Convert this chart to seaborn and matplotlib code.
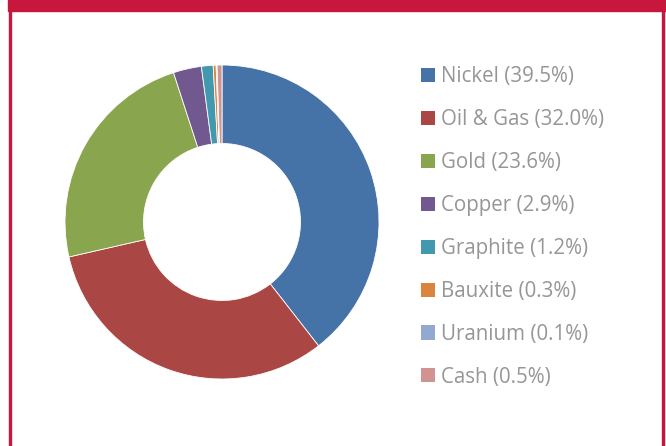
import matplotlib.pyplot as plt
import seaborn as sns
from matplotlib.patches import Rectangle, Patch

# datos del gráfico
commodities = ['Nickel', 'Oil & Gas', 'Gold', 'Copper', 'Graphite', 'Bauxite', 'Uranium', 'Cash']
shares = [39.5, 32.0, 23.6, 2.9, 1.2, 0.3, 0.1, 0.5]
colors = ['#4572A7', '#AA4643', '#89A54E', '#71588F', '#4198AF', '#DB843D', '#93A9CF', '#D09392']

sns.set_theme(style="white")
plt.rcParams['font.family'] = ['Open Sans', 'DejaVu Sans']

W, H = 666, 446
fig = plt.figure(figsize=(W / 100, H / 100), dpi=100)

# marco rojo
red = '#C8173D'
fig.patches.append(Rectangle((8 / W, 1 - 11 / H), 1, 11 / H, transform=fig.transFigure,
                             color=red, zorder=0))
fig.patches.append(Rectangle((9 / W, 0), 2.2 / W, 1, transform=fig.transFigure, color=red, zorder=0))
fig.patches.append(Rectangle((662 / W, 0), 2.2 / W, 1, transform=fig.transFigure, color=red, zorder=0))

# donut
cx, cy, r = 222, 222, 157
ax = fig.add_axes([(cx - r) / W, (H - cy - r) / H, 2 * r / W, 2 * r / H])
wedges, _ = ax.pie(shares, colors=colors, startangle=90, counterclock=False, radius=1,
                   wedgeprops=dict(width=0.5, edgecolor='white', linewidth=0.6))
ax.set_xlim(-1, 1)
ax.set_ylim(-1, 1)
ax.set_aspect('equal')
ax.axis('off')

labels = [f'{c} ({s:.1f}%)' for c, s in zip(commodities, shares)]
handles = [Patch(facecolor=col, edgecolor='none') for col in colors]
leg = fig.legend(handles, labels, loc='upper left', bbox_to_anchor=(413 / W, 1 - 58 / H),
                 frameon=False, fontsize=14.8, handlelength=0.68, handleheight=0.68,
                 handletextpad=0.29, labelspacing=1.066, borderaxespad=0)
for t in leg.get_texts():
    t.set_color('#969696')

plt.savefig('out.png', dpi=100)
